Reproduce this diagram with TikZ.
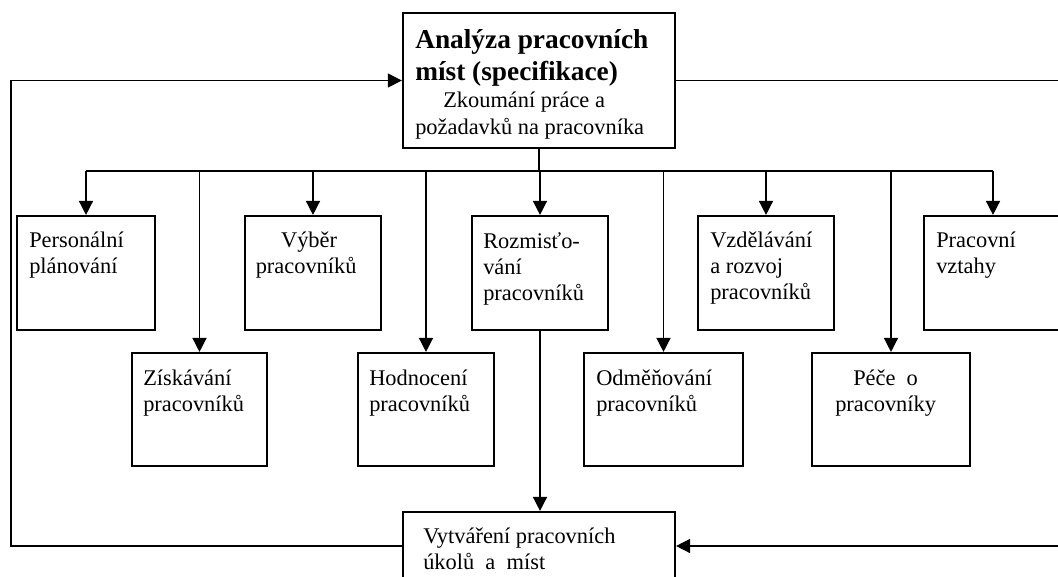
\documentclass[tikz,border=0pt]{standalone}
\usepackage{fontspec}
\setmainfont{Liberation Serif}
\usetikzlibrary{arrows.meta,fit}
\begin{document}
\begin{tikzpicture}[x=0.75pt,y=-0.75pt,
  box/.style={draw, line width=1.6pt, fill=white, inner sep=0pt},
  txt/.style={anchor=north west, inner sep=0pt, align=left,
    font=\fontsize{16.8pt}{19.5pt}\selectfont},
  line/.style={draw, line width=1.1pt},
  arrow/.style={line, -{Triangle[length=10.5pt,width=10.5pt]}}]
\useasboundingbox (0,0) rectangle (1058,576);

% boxes
\node[box, line width=1.8pt, fit={(403,13) (675,148)}] (top) {};
\node[box, fit={(17,216) (155,330)}]   (pers)   {};
\node[box, fit={(245,216) (381,330)}]  (vyber)  {};
\node[box, fit={(472,216) (608,330)}]  (rozm)   {};
\node[box, fit={(698,216) (834,330)}]  (vzdel)  {};
\node[box, fit={(924,216) (1062,330)}] (pracv)  {};
\node[box, fit={(132,353) (267,466)}]  (ziskav) {};
\node[box, fit={(358,353) (494,466)}]  (hodn)   {};
\node[box, fit={(584,353) (743,466)}]  (odmen)  {};
\node[box, fit={(812,353) (970,466)}]  (pece)   {};
\node[box, fit={(403,512) (675,580)}]  (bottom) {};

% texts
\node[txt, font=\fontsize{20.5pt}{24pt}\selectfont\bfseries] (toptitle) at (415,25.6)
  {\strut Analýza pracovních\\míst (specifikace)};
\node[txt, font=\fontsize{16.8pt}{20.25pt}\selectfont] (topsub) at (415,88.1)
  {\strut\hspace*{21pt}Zkoumání práce a\\požadavků na pracovníka};
\node[txt] (perst)   at (29,228.8)  {\strut Personální\\plánování};
\node[txt] (vybert)  at (255.5,228.8) {\strut\hspace*{19pt}Výběr\\pracovníků};
\node[txt] (rozmt)   at (483,229.8) {\strut Rozmisťo-\\vání\\pracovníků};
\node[txt] (vzdelt)  at (710,228.8) {\strut Vzdělávání\\a rozvoj\\pracovníků};
\node[txt] (pracvt)  at (936,228.8) {\strut Pracovní\\vztahy};
\node[txt] (ziskavt) at (143,366.8) {\strut Získávání\\pracovníků};
\node[txt] (hodnt)   at (369,366.8) {\strut Hodnocení\\pracovníků};
\node[txt] (odment)  at (596,366.8) {\strut Odměňování\\pracovníků};
\node[txt] (pecet)   at (835,366.8) {\strut\hspace*{13.5pt}Péče\ \ o\\pracovníky};
\node[txt] (bottomt) at (423,524.8) {\strut Vytváření pracovních\\úkolů\ \ a\ \ míst};

% distribution bus
\coordinate (bus) at (540,171);
\coordinate (leftrail) at (11,0);
\coordinate (rightedge) at (1058,0);
\draw[line] (top.south) -- (top.south |- bus);
\draw[line] (pers.north |- bus) -- (pracv.north |- bus);
\foreach \n in {pers,ziskav,vyber,hodn,rozm,odmen,vzdel,pece,pracv}
  \draw[arrow] (\n.north |- bus) -- (\n.north);

% placement feeds job design
\draw[arrow] (rozm.south) -- (rozm.south |- bottom.north);

% feedback loop on the left
\draw[arrow] (bottom.west) -- (bottom.west -| leftrail) |- (top.west);

% lines leaving to the right
\draw[line] (top.east) -- (top.east -| rightedge);
\draw[arrow] (bottom.east -| rightedge) -- (bottom.east);
\end{tikzpicture}
\end{document}
